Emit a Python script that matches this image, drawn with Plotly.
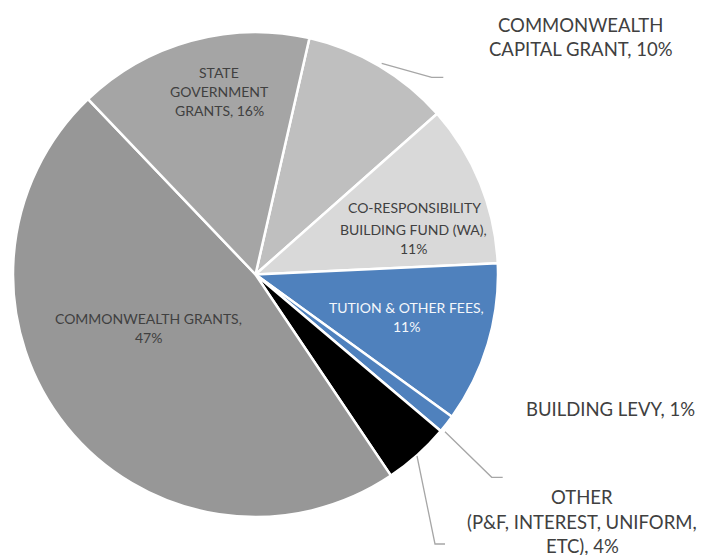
import plotly.graph_objects as go

W, H = 701, 555

labels = ["COMMONWEALTH CAPITAL GRANT", "CO-RESPONSIBILITY BUILDING FUND (WA)",
          "TUTION & OTHER FEES", "BUILDING LEVY",
          "OTHER (P&F, INTEREST, UNIFORM, ETC)", "COMMONWEALTH GRANTS",
          "STATE GOVERNMENT GRANTS"]
values = [9.9, 10.8, 10.7, 1.2, 4.4, 47.3, 15.7]
colors = ["#bfbfbf", "#d9d9d9", "#4f81bd", "#4f81bd", "#000000", "#979797", "#a5a5a5"]

# label lines (text, x px, y px, size, colour)
label_lines = [
    ("COMMONWEALTH", 580, 25, 18.5, "#404040"),
    ("CAPITAL GRANT, 10%", 581, 49, 18.5, "#404040"),
    ("CO-RESPONSIBILITY", 414, 208, 14, "#404040"),
    ("BUILDING FUND (WA),", 413, 229, 14, "#404040"),
    ("11%", 413, 248, 14, "#404040"),
    ("TUTION & OTHER FEES,", 406, 307, 14, "#f4f7fb"),
    ("11%", 406, 326, 14, "#f4f7fb"),
    ("BUILDING LEVY, 1%", 610, 409, 18.5, "#404040"),
    ("OTHER", 582, 497, 18.5, "#404040"),
    ("(P&F, INTEREST, UNIFORM,", 582, 522, 18.5, "#404040"),
    ("ETC), 4%", 582, 546, 18.5, "#404040"),
    ("COMMONWEALTH GRANTS,", 148, 318, 14, "#404040"),
    ("47%", 148, 337, 14, "#404040"),
    ("STATE", 219, 72, 14, "#404040"),
    ("GOVERNMENT", 219, 91, 14, "#404040"),
    ("GRANTS, 16%", 219, 111, 14, "#404040"),
]

leader_lines = [
    [(381.7, 63.3), (431.7, 77.3), (443.3, 77.3)],
    [(445, 431.7), (491.7, 477.3), (502.7, 477.3)],
    [(417, 456), (435, 544), (445, 544)],
]

cx0, cx1, cy0, cy1 = 13, 498, 32, 517

fig = go.Figure(go.Pie(
    labels=labels, values=values, sort=False, direction="clockwise",
    rotation=12.85, textinfo="none", hoverinfo="label+percent",
    marker=dict(colors=colors, line=dict(color="#ffffff", width=2.5)),
    domain=dict(x=[cx0 / W, cx1 / W], y=[1 - cy1 / H, 1 - cy0 / H]),
    showlegend=False,
))

FONT = "Lato, 'Open Sans', sans-serif"
anns = []
for t, x, y, s, c in label_lines:
    anns.append(dict(text=t, x=x / W, y=1 - y / H, xref="paper", yref="paper",
                     showarrow=False, xanchor="center", yanchor="middle",
                     font=dict(family=FONT, size=s, color=c)))

shapes = []
for pts in leader_lines:
    path = "M " + " L ".join(f"{x / W:.5f},{1 - y / H:.5f}" for x, y in pts)
    shapes.append(dict(type="path", path=path, xref="paper", yref="paper",
                       line=dict(color="#a6a6a6", width=1.3)))

fig.update_layout(
    width=W, height=H, margin=dict(l=0, r=0, t=0, b=0),
    paper_bgcolor="#ffffff", plot_bgcolor="#ffffff",
    annotations=anns, shapes=shapes,
)
fig.write_html(
    "out.html",
    config={"displayModeBar": False},
    post_script="document.body.style.margin='0';document.body.style.overflow='hidden';",
)
